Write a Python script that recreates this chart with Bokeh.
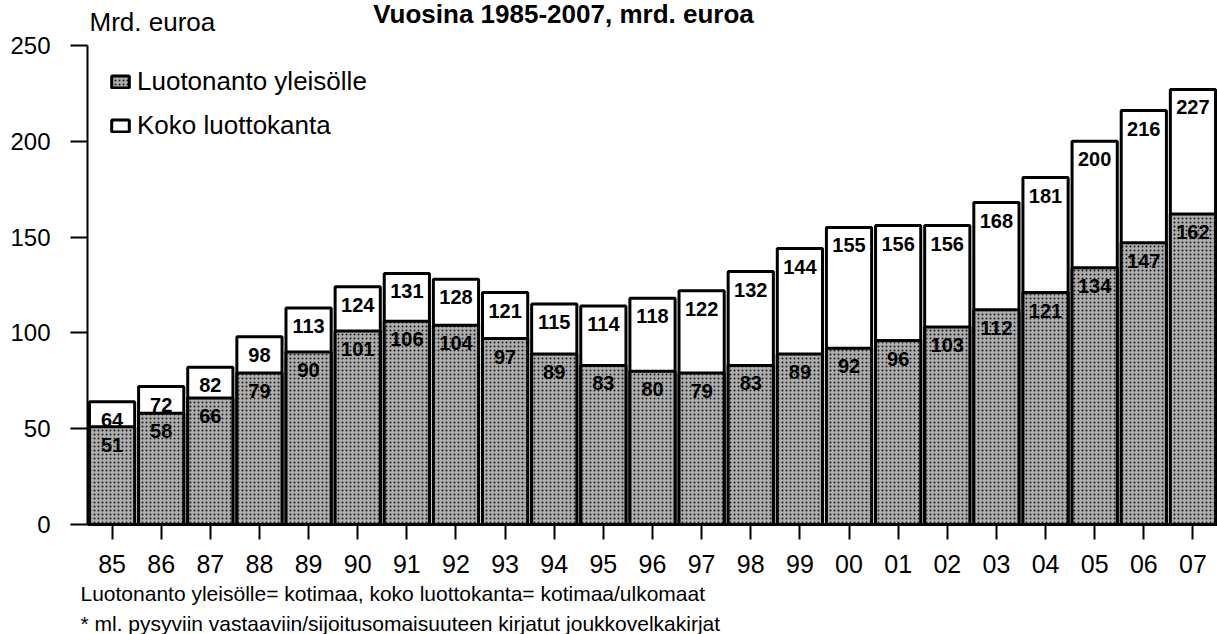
from bokeh.plotting import figure
from bokeh.models import ColumnDataSource, Label, Legend, LegendItem, FactorRange, Range1d, FixedTicker, Title
from bokeh.embed import file_html
from bokeh.resources import INLINE
from bokeh.core.properties import value

years = ["85", "86", "87", "88", "89", "90", "91", "92", "93", "94", "95", "96",
         "97", "98", "99", "00", "01", "02", "03", "04", "05", "06", "07"]
total = [64, 72, 82, 98, 113, 124, 131, 128, 121, 115, 114, 118,
         122, 132, 144, 155, 156, 156, 168, 181, 200, 216, 227]
lending = [51, 58, 66, 79, 90, 101, 106, 104, 97, 89, 83, 80,
           79, 83, 89, 92, 96, 103, 112, 121, 134, 147, 162]
y_ticks = [0, 50, 100, 150, 200, 250]

title_text = "Vuosina 1985-2007, mrd. euroa"
unit_text = "Mrd. euroa"
series_names = ["Luotonanto yleisölle", "Koko luottokanta"]
notes = ["Luotonanto yleisölle= kotimaa, koko luottokanta= kotimaa/ulkomaat",
         "* ml. pysyviin vastaaviin/sijoitusomaisuuteen kirjatut joukkovelkakirjat"]

FONT = "Liberation Sans"

src = ColumnDataSource(dict(
    year=years, total=total, lending=lending,
    total_lbl=[str(v) for v in total], lending_lbl=[str(v) for v in lending],
))

p = figure(width=1217, height=634,
           x_range=FactorRange(factors=years, range_padding=0),
           y_range=Range1d(0, 273.4),
           output_backend="svg", toolbar_location=None,
           min_border_left=87, min_border_right=0,
           min_border_top=0, min_border_bottom=109)
p.xgrid.visible = False
p.ygrid.visible = False
p.outline_line_color = None
p.background_fill_color = "white"

r_total = p.vbar(x="year", top="total", width=0.92, source=src,
                 fill_color="white", line_color="black", line_width=3)
p.text(x="year", y="total", text="total_lbl", source=src,
       text_font=value(FONT), text_font_style="bold", text_font_size="20px",
       text_align="center", text_baseline="top", y_offset=11, text_color="black")

r_lend = p.vbar(x="year", top="lending", width=0.92, source=src,
                fill_color="#adadad", hatch_pattern="dot", hatch_color="#1a1a1a",
                hatch_scale=4, hatch_weight=1.4,
                line_color="black", line_width=3)
p.text(x="year", y="lending", text="lending_lbl", source=src,
       text_font=value(FONT), text_font_style="bold", text_font_size="20px",
       text_align="center", text_baseline="top", y_offset=11, text_color="black")

# axes
p.yaxis.ticker = FixedTicker(ticks=y_ticks)
p.yaxis.bounds = (0, 250)
p.yaxis.major_tick_out = 17
p.yaxis.major_tick_in = 0
p.yaxis.minor_tick_line_color = None
p.yaxis.axis_line_width = 2
p.yaxis.major_tick_line_width = 2
p.yaxis.major_label_standoff = 20
p.yaxis.major_label_text_font = FONT
p.yaxis.major_label_text_font_size = "24px"
p.yaxis.major_label_text_color = "black"

p.xaxis.major_tick_out = 15
p.xaxis.major_tick_in = 0
p.xaxis.axis_line_width = 3
p.xaxis.major_tick_line_width = 2
p.xaxis.major_label_standoff = 15
p.xaxis.major_label_text_font = FONT
p.xaxis.major_label_text_font_size = "25px"
p.xaxis.major_label_text_color = "black"

# legend
legend = Legend(items=[LegendItem(label=series_names[0], renderers=[r_lend]),
                       LegendItem(label=series_names[1], renderers=[r_total])],
                location=(22, 383), margin=0, padding=5,
                glyph_width=22, glyph_height=15, label_height=30, spacing=13,
                label_text_font=FONT, label_text_font_size="26px",
                label_text_color="black", label_standoff=6,
                border_line_color=None, background_fill_alpha=0)
p.add_layout(legend)

# texts inside the top of the frame
p.add_layout(Label(x=476, y=511, x_units="screen", y_units="screen", text=title_text,
                   text_font=FONT, text_font_style="bold", text_font_size="26px",
                   text_color="black", text_align="center", text_baseline="middle"))
p.add_layout(Label(x=2, y=503, x_units="screen", y_units="screen", text=unit_text,
                   text_font=FONT, text_font_size="26px", text_color="black",
                   text_align="left", text_baseline="middle"))

# footnotes below the axis
for i, note in enumerate(notes):
    p.add_layout(Title(text=note, align="left", offset=-7, standoff=(9 if i == 0 else 0),
                       text_font=FONT, text_font_size="21px",
                       text_font_style="normal", text_color="black"), "below")

open("out.html", "w").write(file_html(p, INLINE))
